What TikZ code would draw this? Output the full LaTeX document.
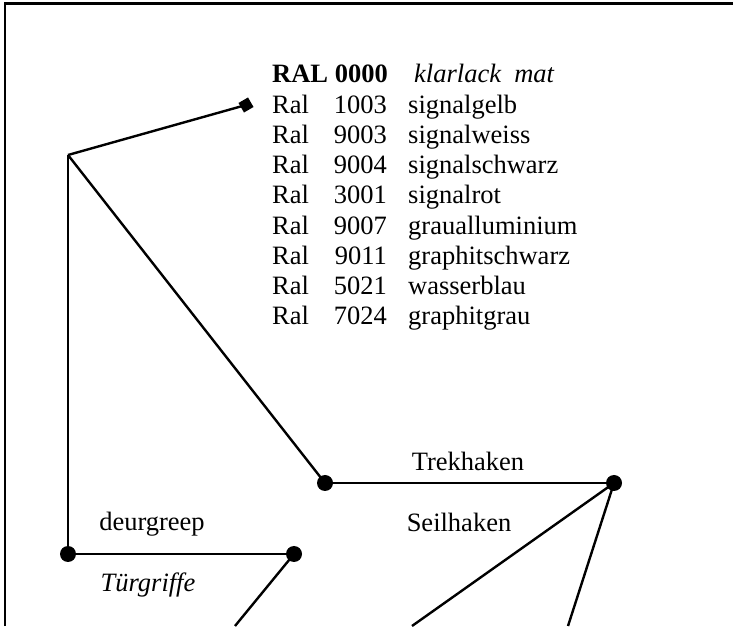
\documentclass[tikz,border=0pt]{standalone}
\usepackage{fontspec}
\setmainfont{Liberation Serif}
\begin{document}
\begin{tikzpicture}[x=1pt,y=1pt,
  conn/.style={line width=2.4pt},
  dot/.style={circle,fill=black,inner sep=0pt,minimum size=16pt},
  tip/.style={rectangle,fill=black,inner sep=0pt,minimum size=11pt,rotate=30},
  txt/.style={inner sep=0pt,font=\fontsize{26.5}{30}\selectfont},
  frame/.style={line width=2.6pt}]
\useasboundingbox (0,0) rectangle (733,626);
% frame
\coordinate (f1) at (5,0);
\coordinate (f2) at (5,622.5);
\coordinate (f3) at (733,622.5);
\draw[frame] (f1) -- (f2) -- (f3);
% points
\coordinate (A) at (68,471);
\node[tip] (D) at (246,521) {};
\node[dot] (T1) at (325,143) {};
\node[dot] (T2) at (614,143) {};
\node[dot] (B1) at (68,72) {};
\node[dot] (B2) at (294,72) {};
\coordinate (e1) at (412,0);
\coordinate (e2) at (568,0);
\coordinate (e3) at (235,0);
% connectors
\draw[conn] (A) -- (D.center);
\draw[conn] (A) -- (T1.center);
\draw[conn] (A) -- (B1.center);
\draw[conn] (T1.center) -- (T2.center);
\draw[conn] (T2.center) -- (e1);
\draw[conn] (T2.center) -- (e2);
\draw[conn] (B1.center) -- (B2.center);
\draw[conn] (B2.center) -- (e3);
% labels
\node[txt,anchor=base] (l1) at (468,155) {Trekhaken};
\node[txt,anchor=base] (l2) at (459,94) {Seilhaken};
\node[txt,anchor=base] (l3) at (152,95) {deurgreep};
\node[txt,anchor=base] (l4) at (148,34) {\itshape Türgriffe};
% table
\node[txt,anchor=base west] (h1) at (272,543) {\bfseries RAL 0000};
\node[txt,anchor=base west] (h2) at (414,543) {\itshape klarlack\ \ mat};
\foreach \n/\c/\name [count=\k] in {r1/1003/signalgelb,r2/9003/signalweiss,r3/9004/signalschwarz,r4/3001/signalrot,r5/9007/graualluminium,r6/9011/graphitschwarz,r7/5021/wasserblau,r8/7024/graphitgrau}{
  \node[txt,anchor=base west] (\n a) at (272,543-30.25*\k) {Ral};
  \node[txt,anchor=base east] (\n b) at (387,543-30.25*\k) {\c};
  \node[txt,anchor=base west] (\n c) at (408,543-30.25*\k) {\name};
}
\end{tikzpicture}
\end{document}
